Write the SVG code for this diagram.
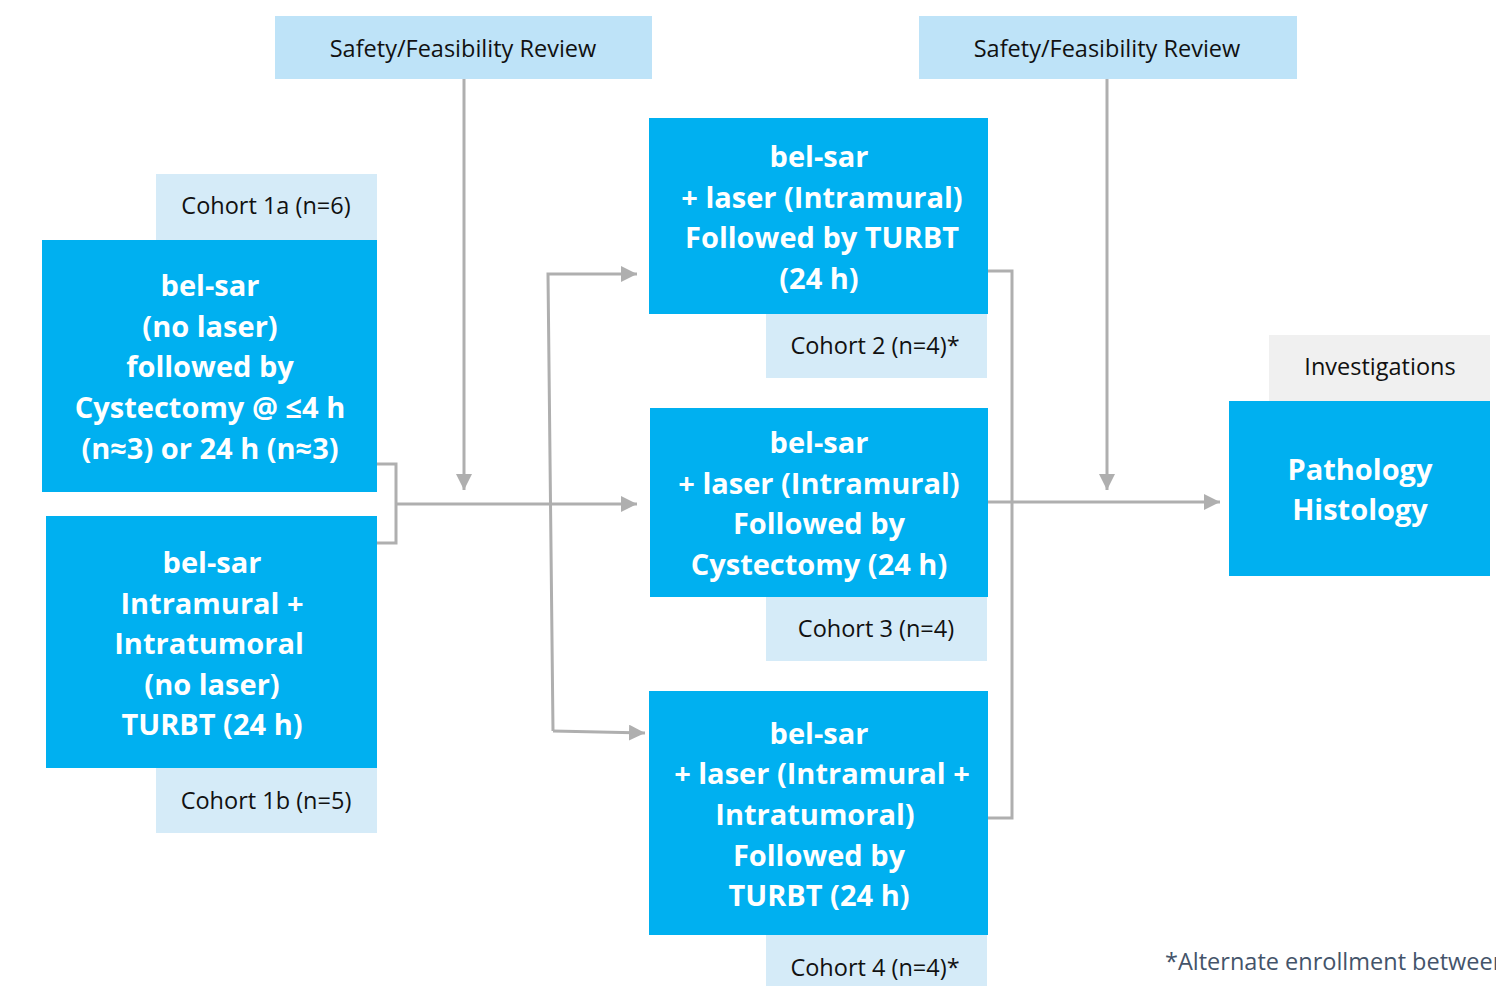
<svg xmlns="http://www.w3.org/2000/svg" width="1496" height="986" viewBox="0 0 1496 986">
<defs>
<style>
.rev{fill:#BEE3F8}
.lab{fill:#D5EBF8}
.inv{fill:#F0F0F0}
.blue{fill:#00B0F0}
.t{font-family:"Open Sans","Liberation Sans",sans-serif;font-size:23.5px;fill:#111;text-anchor:middle}
.b{font-family:"Open Sans","Liberation Sans",sans-serif;font-size:29px;font-weight:bold;fill:#fff;text-anchor:middle}
.fn{font-family:"Open Sans","Liberation Sans",sans-serif;font-size:23.5px;fill:#44546A}
.c{fill:none;stroke:#AFAFAF;stroke-width:3}
</style>
<marker id="ah" viewBox="0 0 10 10" refX="10" refY="5" markerWidth="16" markerHeight="16" markerUnits="userSpaceOnUse" orient="auto">
<path d="M0,0 L10,5 L0,10 z" fill="#AFAFAF"/>
</marker>
</defs>
<rect width="1496" height="986" fill="#fff"/>
<g id="connectors">
<path class="c" d="M377,464 H396 V543 H377"/>
<path class="c" d="M396,504 H637" marker-end="url(#ah)"/>
<path class="c" d="M464,79 V490" marker-end="url(#ah)"/>
<path class="c" d="M553,731 L548,274 H637" marker-end="url(#ah)"/>
<path class="c" d="M553,731 L645,733" marker-end="url(#ah)"/>
<path class="c" d="M988,271 H1012 V818 H988"/>
<path class="c" d="M988,502 H1220" marker-end="url(#ah)"/>
<path class="c" d="M1107,79 V490" marker-end="url(#ah)"/>
</g>
<g id="review1"><rect class="rev" x="275" y="16" width="377" height="63"/><text class="t" x="463" y="57">Safety/Feasibility Review</text></g>
<g id="review2"><rect class="rev" x="919" y="16" width="378" height="63"/><text class="t" x="1107" y="57">Safety/Feasibility Review</text></g>
<g id="cohort1a-label"><rect class="lab" x="156" y="174" width="221" height="66"/><text class="t" x="266" y="214">Cohort 1a (n=6)</text></g>
<g id="cohort1a"><rect class="blue" x="42" y="240" width="335" height="252"/>
<text class="b" x="210"><tspan x="210" y="296">bel-sar</tspan><tspan x="210" y="337">(no laser)</tspan><tspan x="210" y="377">followed by</tspan><tspan x="210" y="418">Cystectomy @ ≤4 h</tspan><tspan x="210" y="459">(n≈3) or 24 h (n≈3)</tspan></text></g>
<g id="cohort1b"><rect class="blue" x="46" y="516" width="331" height="252"/>
<text class="b" x="212"><tspan x="212" y="573">bel-sar</tspan><tspan x="212" y="614">Intramural +</tspan><tspan x="209" y="654">Intratumoral</tspan><tspan x="212" y="695">(no laser)</tspan><tspan x="212" y="735">TURBT (24 h)</tspan></text></g>
<g id="cohort1b-label"><rect class="lab" x="156" y="768" width="221" height="65"/><text class="t" x="266" y="809">Cohort 1b (n=5)</text></g>
<g id="cohort2"><rect class="blue" x="649" y="118" width="339" height="196"/>
<text class="b" x="819"><tspan x="819" y="167">bel-sar</tspan><tspan x="822" y="208">+ laser (Intramural)</tspan><tspan x="822" y="248">Followed by TURBT</tspan><tspan x="819" y="289">(24 h)</tspan></text></g>
<g id="cohort2-label"><rect class="lab" x="766" y="314" width="221" height="64"/><text class="t" x="875" y="354">Cohort 2 (n=4)*</text></g>
<g id="cohort3"><rect class="blue" x="650" y="408" width="338" height="189"/>
<text class="b" x="819"><tspan x="819" y="453">bel-sar</tspan><tspan x="819" y="494">+ laser (Intramural)</tspan><tspan x="819" y="534">Followed by</tspan><tspan x="819" y="575">Cystectomy (24 h)</tspan></text></g>
<g id="cohort3-label"><rect class="lab" x="766" y="597" width="221" height="64"/><text class="t" x="876" y="637">Cohort 3 (n=4)</text></g>
<g id="cohort4"><rect class="blue" x="649" y="691" width="339" height="244"/>
<text class="b" x="819"><tspan x="819" y="744">bel-sar</tspan><tspan x="822" y="784">+ laser (Intramural +</tspan><tspan x="815" y="825">Intratumoral)</tspan><tspan x="819" y="866">Followed by</tspan><tspan x="819" y="906">TURBT (24 h)</tspan></text></g>
<g id="cohort4-label"><rect class="lab" x="766" y="935" width="221" height="51"/><text class="t" x="875" y="976">Cohort 4 (n=4)*</text></g>
<g id="investigations"><rect class="inv" x="1269" y="335" width="221" height="66"/><text class="t" x="1380" y="375">Investigations</text></g>
<g id="pathology"><rect class="blue" x="1229" y="401" width="261" height="175"/>
<text class="b" x="1360"><tspan x="1360" y="480">Pathology</tspan><tspan x="1360" y="520">Histology</tspan></text></g>
<text class="fn" x="1165" y="970">*Alternate enrollment between</text>
</svg>
